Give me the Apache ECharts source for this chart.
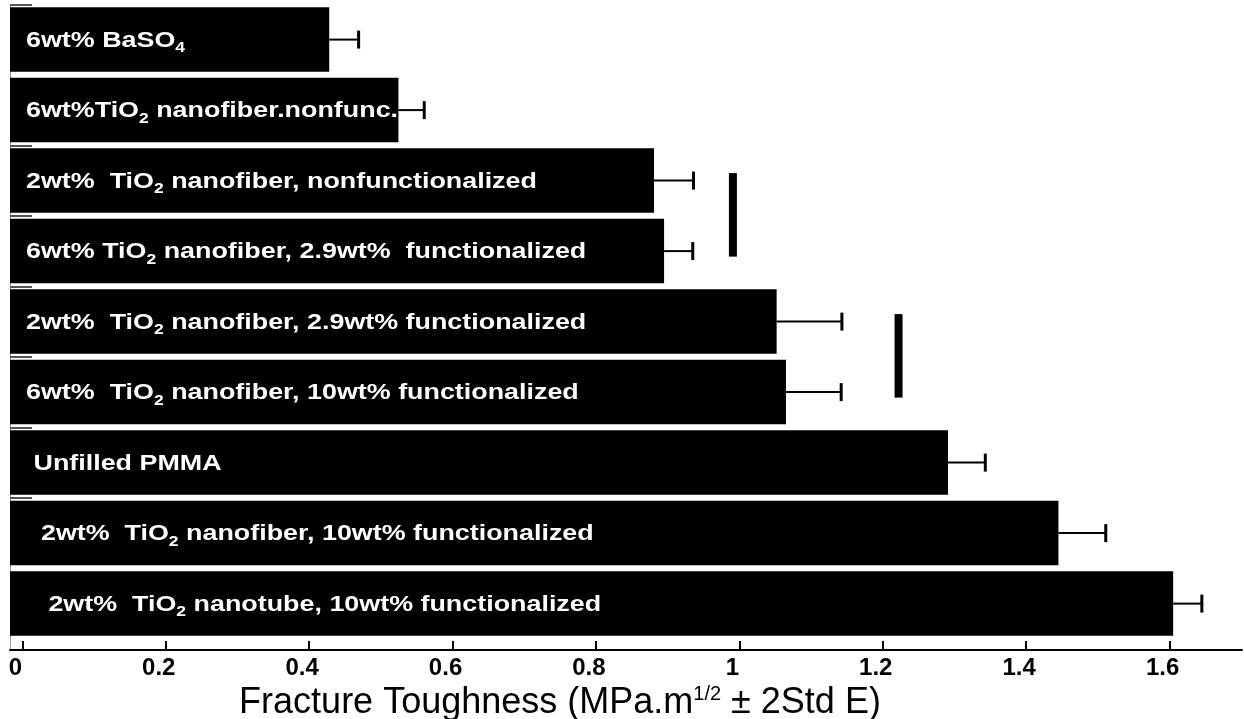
<!DOCTYPE html>
<html><head><meta charset="utf-8">
<script src="https://cdn.jsdelivr.net/npm/echarts@6/dist/echarts.min.js"></script>
<style>html,body{margin:0;padding:0;background:#fff}#c{width:1244px;height:719px}</style>
</head><body><div id="c"></div>
<script>
// ---- data ----
const categories = [
  '6wt% BaSO{sub|4}',
  '6wt%TiO{sub|2} nanofiber.nonfunc.',
  '2wt%  TiO{sub|2} nanofiber, nonfunctionalized',
  '6wt% TiO{sub|2} nanofiber, 2.9wt%  functionalized',
  '2wt%  TiO{sub|2} nanofiber, 2.9wt% functionalized',
  '6wt%  TiO{sub|2} nanofiber, 10wt% functionalized',
  ' Unfilled PMMA',
  '  2wt%  TiO{sub|2} nanofiber, 10wt% functionalized',
  '   2wt%  TiO{sub|2} nanotube, 10wt% functionalized'
];
const means   = [0.428, 0.5245, 0.881, 0.895, 1.052, 1.065, 1.291, 1.445, 1.605];
const errPlus = [0.041, 0.036, 0.055, 0.040, 0.091, 0.077, 0.052, 0.066, 0.040];
const xTicks  = [0, 0.2, 0.4, 0.6, 0.8, 1, 1.2, 1.4, 1.6];
const rowTicks = [-0.5, 1.5, 2.5, 3.5, 4.5, 5.5, 6.5];   // row-boundary ticks visible on the left
const sigX    = [0.991, 1.222];
const sigFrom = [2, 4];
const sigTo   = [3, 5];
const xName   = 'Fracture Toughness (MPa.m{sup|1/2} ± 2Std E)';

// ---- chart ----
const X_MIN = -0.0172, X_MAX = 1.701;
const Y_MIN = -0.5, Y_MAX = 8.658;
const FONT = '"Liberation Sans", Arial, sans-serif';
const chart = echarts.init(document.getElementById('c'), null, {renderer: 'canvas'});

const barData = means.map((m, i) => [m, i, m + errPlus[i]]);
const sigData = sigX.map((x, k) => [x, sigFrom[k], sigTo[k]]);

function renderBar(params, api) {
  const i = params.dataIndex;
  const v = api.value(0), row = api.value(1), e = api.value(2);
  const end = api.coord([v, row]);
  const start = api.coord([X_MIN, row]);
  const ep = api.coord([e, row]);
  const band = Math.abs(api.size([0, 1])[1]);
  const h = band * 0.915;
  const y = end[1];
  return {
    type: 'group',
    children: [
      {type: 'rect', shape: {x: start[0], y: y - h / 2, width: end[0] - start[0], height: h},
       style: {fill: '#000'}},
      {type: 'line', shape: {x1: end[0], y1: y, x2: ep[0], y2: y},
       style: {stroke: '#000', lineWidth: 2}},
      {type: 'line', shape: {x1: ep[0], y1: y - 9, x2: ep[0], y2: y + 9},
       style: {stroke: '#000', lineWidth: 3}},
      {type: 'text', x: start[0] + 16, y: y + 1, scaleX: 1.25, z2: 10,
       style: {
         text: categories[i], x: 0, y: 0,
         fill: '#fff', font: 'bold 21.5px ' + FONT,
         align: 'left', verticalAlign: 'middle', lineHeight: 30,
         rich: {sub: {font: 'bold 14px ' + FONT, fill: '#fff', verticalAlign: 'bottom', lineHeight: 16}}
       }}
    ]
  };
}

function renderSig(params, api) {
  const x = api.value(0);
  const p1 = api.coord([x, api.value(1)]);
  const p2 = api.coord([x, api.value(2)]);
  return {type: 'rect', shape: {x: p1[0] - 4, y: p1[1] - 7.5, width: 8, height: p2[1] - p1[1] + 13},
          style: {fill: '#000'}};
}

chart.setOption({
  animation: false,
  backgroundColor: '#fff',
  grid: {left: 10, right: 2, top: 4.35, bottom: 69, containLabel: false, outerBoundsMode: 'none'},
  xAxis: {
    type: 'value', min: X_MIN, max: X_MAX,
    axisLine: {show: true, onZero: false, lineStyle: {color: '#000', width: 2}},
    axisTick: {show: true, inside: true, length: 9, lineStyle: {color: '#000', width: 2}, customValues: xTicks},
    axisLabel: {show: true, customValues: xTicks, color: '#000', fontFamily: FONT, fontWeight: 'bold',
                fontSize: 24, margin: 6, padding: [0, 14, 0, 0]},
    splitLine: {show: false},
    name: xName, nameLocation: 'middle', nameGap: 31,
    nameTextStyle: {color: '#000', fontFamily: FONT, fontSize: 36, lineHeight: 36, padding: [0, 132, 0, 0],
      rich: {sup: {fontFamily: FONT, fontSize: 20, lineHeight: 10, verticalAlign: 'top', color: '#000'}}}
  },
  yAxis: {
    type: 'value', inverse: true, min: Y_MIN, max: Y_MAX,
    axisLine: {show: true, onZero: false, lineStyle: {color: '#999', width: 1}},
    axisTick: {show: true, inside: true, length: 22, lineStyle: {color: '#555', width: 2}, customValues: rowTicks},
    axisLabel: {show: false},
    splitLine: {show: false}
  },
  series: [
    {type: 'custom', renderItem: renderBar, data: barData, encode: {x: 0, y: 1}, z: 3},
    {type: 'custom', renderItem: renderSig, data: sigData, encode: {x: 0, y: 1}, z: 3}
  ]
});
</script>
</body></html>
